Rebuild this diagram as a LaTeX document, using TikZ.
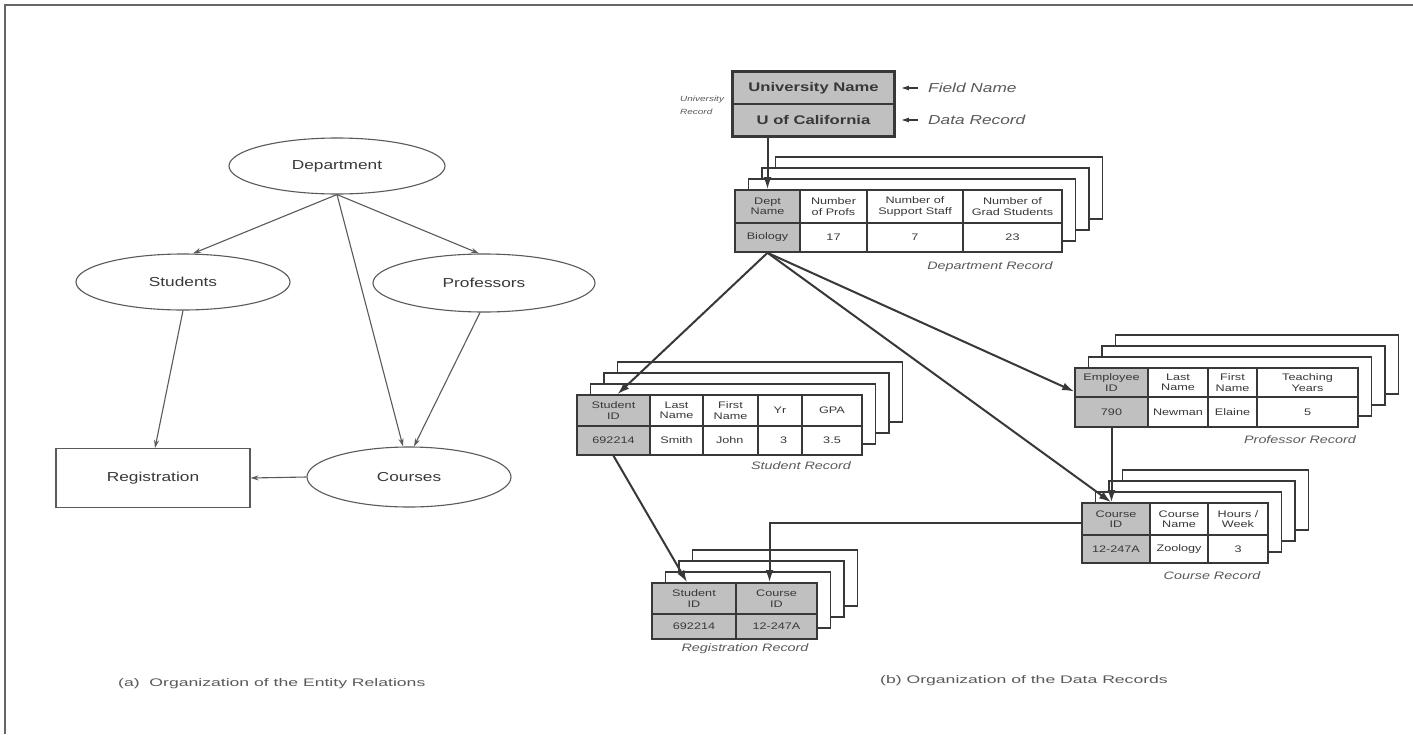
\documentclass[tikz,border=0pt]{standalone}
\usepackage{fontspec}
\setmainfont{Liberation Sans}[FakeStretch=1.33]
\newfontfamily\capfont{Liberation Sans}[FakeStretch=1.6]
\usetikzlibrary{shapes.geometric,arrows.meta}

\definecolor{ink}{HTML}{383838}
\definecolor{soft}{HTML}{5A5A5A}
\definecolor{cellgray}{HTML}{C0C0C0}

% one table cell given by its corners: name, x1, y1, x2, y2, text, fill
\newcommand\rcell[7]{%
  \node[cell,fill=#7,minimum width={(#4)-(#2)},minimum height={(#5)-(#3)}]
    (#1) at ({((#2)+(#4))/2},{((#3)+(#5))/2}) {#6};}
% three sheets stacked behind a front table with corners (x1,y1)-(x2,y2)
\newcommand\pagestack[4]{%
  \foreach \k in {3,2,1}{%
    \draw[sheet] ({#1+13.5*\k},{#2-11*\k}) rectangle ({#3+13.5*\k},{#4-11*\k});}}

\begin{document}
\begin{tikzpicture}[x=1pt,y=-1pt,
  ent/.style={ellipse,draw=soft,line width=1.1pt,inner sep=0pt,
    font=\fontsize{13}{15}\selectfont,text=ink},
  entbox/.style={rectangle,draw=soft,line width=1.1pt,inner sep=0pt,
    font=\fontsize{13}{15}\selectfont,text=ink},
  rel/.style={draw=soft,line width=1.1pt,-{Stealth[length=8pt,width=5pt]}},
  cell/.style={draw=ink,line width=1.6pt,inner sep=0pt,align=center,
    font=\fontsize{9.5}{10.5}\selectfont,text=ink},
  sheet/.style={draw=ink,line width=1.6pt,fill=white},
  link/.style={draw=ink,line width=2pt,-{Latex[length=12pt,width=8pt]}},
  pointer/.style={draw=ink,line width=1.4pt,-{Latex[length=8pt,width=5pt]}},
  reclabel/.style={inner sep=0pt,font=\fontsize{10.8}{12}\selectfont\itshape,text=soft},
  caption/.style={inner sep=0pt,anchor=west,font=\capfont\fontsize{11}{13}\selectfont,text=soft}]

\useasboundingbox (0,0) rectangle (1413,734);
\fill[white] (0,0) rectangle (1413,734);
\draw[gray!80!black,line width=1.5pt] (5,734) -- (5,5) -- (1413,5);

% ---------- (a) entity relations ----------
\node[ent,minimum width=216,minimum height=56] (dep) at (337,166) {Department};
\node[ent,minimum width=214,minimum height=56] (stu) at (183,282) {Students};
\node[ent,minimum width=222,minimum height=58] (pro) at (484,283) {Professors};
\node[entbox,minimum width=194,minimum height=59] (reg) at (153,478) {Registration};
\node[ent,minimum width=204,minimum height=60] (cou) at (409,477) {Courses};

\draw[rel] (dep.south) -- ([xshift=10pt]stu.north);
\draw[rel] (dep.south) -- ([xshift=-5pt]pro.north);
\draw[rel] (dep.south) -- ([xshift=-6pt]cou.north);
\draw[rel] ([xshift=-4pt]pro.south) -- ([xshift=5pt]cou.north);
\draw[rel] (stu.south) -- ([xshift=2pt]reg.north);
\draw[rel] (cou.west) -- (reg.east);

\node[caption] (capa) at (118,684) {(a)\ \ Organization of the Entity Relations};

% ---------- (b) data records ----------
% university record
\rcell{uname}{733}{72}{894}{104}{\fontsize{12.5}{14}\selectfont\bfseries University Name}{cellgray}
\rcell{ucal}{733}{104}{894}{136}{\fontsize{12.5}{14}\selectfont\bfseries U of California}{cellgray}
\draw[ink,line width=2.4pt] (uname.north west) rectangle (ucal.south east);
\node[reclabel,anchor=west,align=left,font=\fontsize{7.5}{13}\selectfont\itshape]
  (ulbl) at (680,105) {University\\Record};
\node[inner sep=0pt,anchor=west,font=\fontsize{13}{15}\selectfont\itshape,text=soft]
  (fld) at (928,88) {Field Name};
\node[inner sep=0pt,anchor=west,font=\fontsize{13}{15}\selectfont\itshape,text=soft]
  (dat) at (928,120) {Data Record};
\draw[pointer] ([xshift=-10pt]fld.west) -- ([xshift=6pt]uname.east);
\draw[pointer] ([xshift=-10pt]dat.west) -- ([xshift=6pt]ucal.east |- dat.west);

% department record
\pagestack{735}{190}{1062}{252}
\rcell{dname}{735}{190}{800}{223}{Dept\\Name}{cellgray}
\rcell{dnp}{800}{190}{867}{223}{Number\\of Profs}{white}
\rcell{dns}{867}{190}{963}{223}{Number of\\Support Staff}{white}
\rcell{dng}{963}{190}{1062}{223}{Number of\\Grad Students}{white}
\rcell{dbio}{735}{223}{800}{252}{Biology}{cellgray}
\rcell{d17}{800}{223}{867}{252}{17}{white}
\rcell{d7}{867}{223}{963}{252}{7}{white}
\rcell{d23}{963}{223}{1062}{252}{23}{white}
\node[reclabel] (dlbl) at (990,267) {Department Record};

% student record
\pagestack{577}{395}{862}{455}
\rcell{sid}{577}{395}{650}{426}{Student\\ID}{cellgray}
\rcell{sln}{650}{395}{703}{426}{Last\\Name}{white}
\rcell{sfn}{703}{395}{758}{426}{First\\Name}{white}
\rcell{syr}{758}{395}{802}{426}{Yr}{white}
\rcell{sgpa}{802}{395}{862}{426}{GPA}{white}
\rcell{snum}{577}{426}{650}{455}{692214}{cellgray}
\rcell{ssmith}{650}{426}{703}{455}{Smith}{white}
\rcell{sjohn}{703}{426}{758}{455}{\hfill John\,}{white}
\rcell{s3}{758}{426}{802}{455}{\ \ 3}{white}
\rcell{s35}{802}{426}{862}{455}{3.5}{white}
\node[reclabel] (slbl) at (801,466) {Student Record};

% professor record
\pagestack{1075}{368}{1358}{427}
\rcell{eid}{1075}{368}{1148}{397}{Employee\\ID}{cellgray}
\rcell{eln}{1148}{368}{1208}{397}{Last\\Name}{white}
\rcell{efn}{1208}{368}{1257}{397}{First\\Name}{white}
\rcell{ety}{1257}{368}{1358}{397}{Teaching\\Years}{white}
\rcell{e790}{1075}{397}{1148}{427}{790}{cellgray}
\rcell{enew}{1148}{397}{1208}{427}{Newman}{white}
\rcell{eel}{1208}{397}{1257}{427}{Elaine}{white}
\rcell{e5}{1257}{397}{1358}{427}{5}{white}
\node[reclabel] (plbl) at (1300,440) {Professor Record};

% course record
\pagestack{1082}{503}{1268}{563}
\rcell{cid}{1082}{503}{1150}{535}{Course\\ID}{cellgray}
\rcell{cname}{1150}{503}{1208}{535}{Course\\Name}{white}
\rcell{chw}{1208}{503}{1268}{535}{Hours /\\Week}{white}
\rcell{cnum}{1082}{535}{1150}{563}{12-247A}{cellgray}
\rcell{czoo}{1150}{535}{1208}{563}{Zoology}{white}
\rcell{c3}{1208}{535}{1268}{563}{3}{white}
\node[reclabel] (clbl) at (1212,576) {Course Record};

% registration record
\pagestack{652}{583}{817}{639}
\rcell{rsid}{652}{583}{736}{614}{Student\\ID}{cellgray}
\rcell{rcid}{736}{583}{817}{614}{Course\\ID}{cellgray}
\rcell{rsnum}{652}{614}{736}{639}{692214}{cellgray}
\rcell{rcnum}{736}{614}{817}{639}{12-247A}{cellgray}
\node[reclabel] (rlbl) at (745,649) {Registration Record};

% links between records
\draw[link] (dname.north |- ucal.south) -- (dname.north);
\draw[link] (dbio.south) -- ([xshift=4pt]sid.north);
\draw[link] (dbio.south) -- ([yshift=-9pt]eid.west);
\draw[link] (dbio.south) -- ([xshift=-5pt]cid.north);
\draw[link] (e790.south) -- (e790.south |- cid.north);
\draw[link] (snum.south) -- ([xshift=-7pt]rsid.north);
\draw[link] ([yshift=-4pt]cid.west) -| ([xshift=-7pt]rcid.north);

\node[caption] (capb) at (880,681) {(b) Organization of the Data Records};
\end{tikzpicture}
\end{document}
